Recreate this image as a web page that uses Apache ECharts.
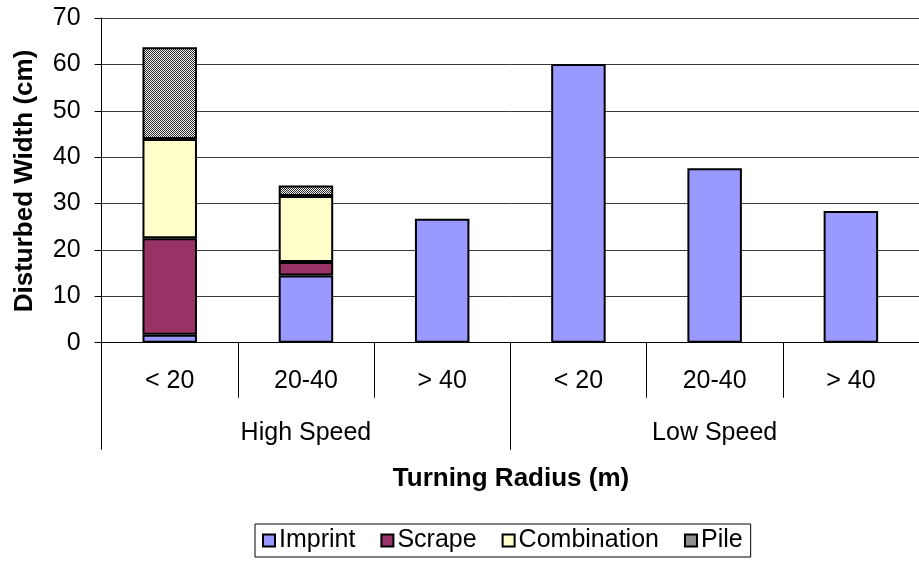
<!DOCTYPE html>
<html>
<head>
<meta charset="utf-8">
<script src="https://cdn.jsdelivr.net/npm/echarts@6/dist/echarts.min.js"></script>
<style>
  html, body { margin: 0; padding: 0; background: #fff; }
  #chart { width: 919px; height: 569px; }
</style>
</head>
<body>
<div id="chart"></div>
<script>
// Turning radius classes, grouped by speed
const radiusLabels = ['< 20', '20-40', '> 40', '< 20', '20-40', '> 40'];
const speedGroups = ['High Speed', 'Low Speed'];

// Disturbed width components (cm), stacked per radius class
const imprint = [1.7, 14.5, 26.7, 60.1, 37.6, 28.4];
const scrape = [20.8, 2.9, null, null, null, null];
const combination = [21.4, 14.2, null, null, null, null];
const pile = [19.8, 2.3, null, null, null, null];

const yTicks = { min: 0, max: 70, step: 10 };

const FONT = '"Liberation Sans", Arial, sans-serif';
const LABEL_SIZE = 25;

// fine checker fill for the "Pile" component
function checkerPattern() {
  const c = document.createElement('canvas');
  c.width = 4; c.height = 4;
  const ctx = c.getContext('2d');
  for (let y = 0; y < 4; y++) {
    for (let x = 0; x < 4; x++) {
      ctx.fillStyle = ((x + y) % 2 === 0) ? '#2a2a2a' : '#f4f4f4';
      ctx.fillRect(x, y, 1, 1);
    }
  }
  return { image: c, repeat: 'repeat' };
}

const chart = echarts.init(document.getElementById('chart'), null, { renderer: 'canvas' });

function barSeries(name, data, color) {
  return {
    name: name,
    type: 'bar',
    stack: 'width',
    xAxisIndex: 0,
    barWidth: '40%',
    data: data,
    itemStyle: { color: color, borderColor: '#000', borderWidth: 2 },
    emphasis: { disabled: true }
  };
}

chart.setOption({
  animation: false,
  backgroundColor: '#fff',
  textStyle: { fontFamily: FONT },
  grid: { left: 101.6, right: -3, top: 18, bottom: 226.3, containLabel: false },
  legend: {
    bottom: 12,
    left: 255,
    data: ['Imprint', 'Scrape', 'Combination', 'Pile'],
    icon: 'rect',
    itemWidth: 12,
    itemHeight: 12,
    itemGap: 25,
    padding: [4, 8, 4, 7],
    borderColor: '#000',
    borderWidth: 1,
    backgroundColor: '#fff',
    textStyle: { fontFamily: FONT, fontSize: LABEL_SIZE, color: '#000', padding: [0, 0, 0, -1] }
  },
  xAxis: [
    {
      type: 'category',
      data: radiusLabels,
      position: 'bottom',
      axisLine: { show: true, lineStyle: { color: '#000', width: 1 } },
      axisTick: { show: true, length: 55, interval: 0, lineStyle: { color: '#000', width: 1 } },
      axisLabel: { interval: 0, margin: 26, fontSize: LABEL_SIZE, color: '#000', fontFamily: FONT },
      splitLine: { show: false }
    },
    {
      type: 'category',
      data: speedGroups,
      position: 'bottom',
      axisLine: { show: false },
      axisTick: { show: true, length: 107, interval: 0, lineStyle: { color: '#000', width: 1 } },
      axisLabel: { interval: 0, margin: 78, fontSize: LABEL_SIZE, color: '#000', fontFamily: FONT },
      splitLine: { show: false }
    }
  ],
  yAxis: {
    type: 'value',
    min: yTicks.min,
    max: yTicks.max,
    interval: yTicks.step,
    axisLine: { show: true, lineStyle: { color: '#000', width: 1 } },
    axisTick: { show: true, length: 7, lineStyle: { color: '#000' } },
    axisLabel: { margin: 21, fontSize: LABEL_SIZE, color: '#000', fontFamily: FONT },
    splitLine: { show: true, lineStyle: { color: '#3a3a3a', width: 1 } }
  },
  graphic: [
    {
      type: 'text',
      x: 511, y: 479,
      style: {
        text: 'Turning Radius (m)',
        fontFamily: FONT, fontSize: 26, fontWeight: 'bold', fill: '#000',
        textAlign: 'center', textVerticalAlign: 'middle'
      }
    },
    {
      type: 'text',
      x: 25, y: 181,
      rotation: Math.PI / 2,
      style: {
        text: 'Disturbed Width (cm)',
        fontFamily: FONT, fontSize: 26, fontWeight: 'bold', fill: '#000',
        textAlign: 'center', textVerticalAlign: 'middle'
      }
    }
  ],
  series: [
    barSeries('Imprint', imprint, '#9999ff'),
    barSeries('Scrape', scrape, '#993366'),
    barSeries('Combination', combination, '#ffffcc'),
    barSeries('Pile', pile, checkerPattern())
  ]
});
</script>
</body>
</html>
